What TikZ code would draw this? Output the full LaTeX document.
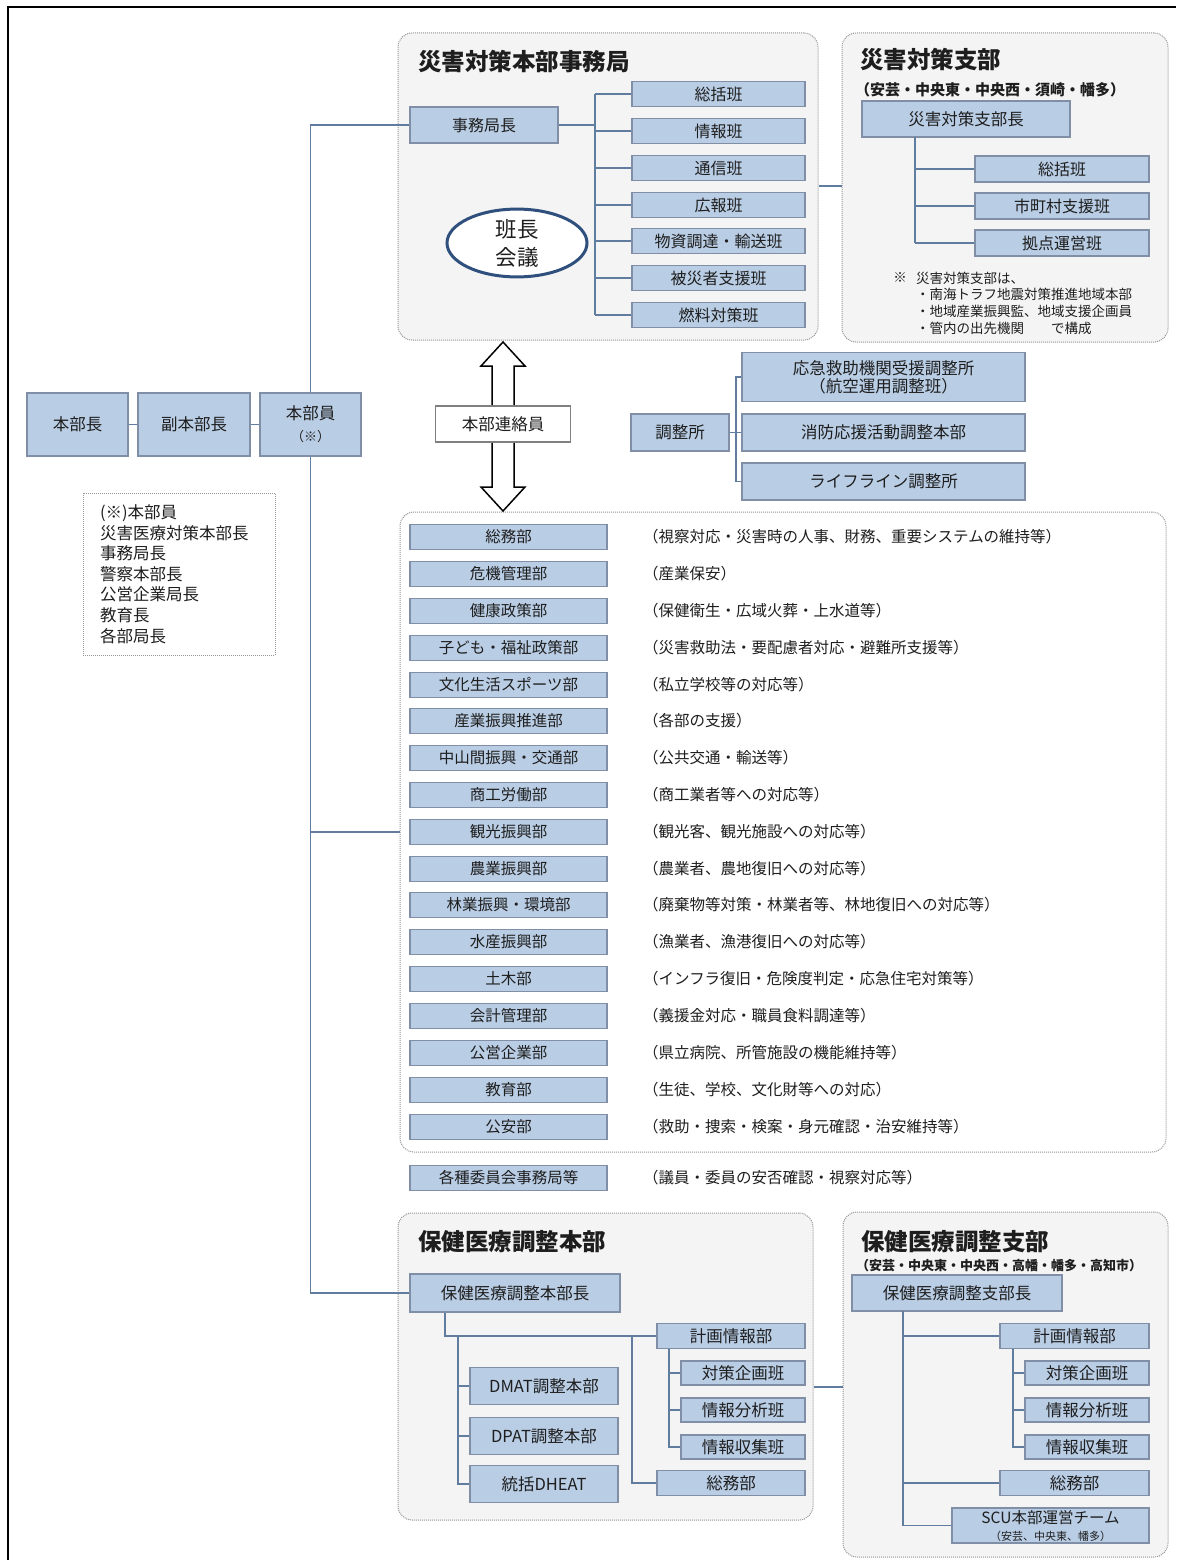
\documentclass[tikz,border=0pt]{standalone}
\usepackage{fontspec}
\setmainfont{Noto Sans CJK JP}
\usetikzlibrary{calc,shapes.geometric}

\definecolor{boxfill}{RGB}{185,205,229}
\definecolor{boxline}{RGB}{128,143,166}
\definecolor{connline}{RGB}{96,124,158}
\definecolor{grpfill}{RGB}{244,244,244}
\definecolor{grpline}{RGB}{150,150,150}
\definecolor{ovalline}{RGB}{47,79,125}
\definecolor{txt}{RGB}{30,30,30}

\begin{document}
\begin{tikzpicture}[x=1pt,y=-1pt]
\tikzset{box style/.style={shape=rectangle,draw=boxline,fill=boxfill,line width=1.2pt,inner sep=0pt,text=txt,align=center,font=\fontsize{16}{19}\selectfont},
grp style/.style={shape=rectangle,draw=grpline,fill=grpfill,densely dotted,line width=1pt,rounded corners=14pt,inner sep=0pt},
title style/.style={inner sep=0pt,text=txt,font=\fontsize{23.5}{28}\selectfont\bfseries},
sub style/.style={inner sep=0pt,text=txt,font=\fontsize{15}{18}\selectfont\bfseries},
desc style/.style={inner sep=0pt,text=txt,font=\fontsize{15.5}{18}\selectfont},
note style/.style={inner sep=0pt,text=txt,align=left,font=\fontsize{13.5}{16.7}\selectfont},
memo style/.style={shape=rectangle,draw=grpline,densely dotted,line width=1pt,fill=white,text=txt,minimum width=192pt,minimum height=162pt,text width=158pt,inner xsep=17pt,align=left,font=\fontsize{16.5}{20.6}\selectfont},
oval style/.style={shape=ellipse,draw=ovalline,line width=3pt,fill=white,text=txt,minimum width=140pt,minimum height=63pt,inner sep=0pt,align=center,font=\fontsize{21.5}{28}\selectfont},
arrow style/.style={draw=black,fill=white,line width=1.5pt,line join=miter},
conn style/.style={draw=connline,line width=1.6pt}}

\useasboundingbox (0,0) rectangle (1176,1560);
\draw[line width=2.5pt] (8,1560) -- (8,7) -- (1176,7);

\node[grp style, minimum width=420pt, minimum height=307pt] (g1) at (608,186.5) {};
\node[grp style, minimum width=326pt, minimum height=309pt] (g2) at (1005,187.5) {};
\node[grp style, fill=white, minimum width=766pt, minimum height=640pt] (g3) at (783,832) {};
\node[grp style, minimum width=415pt, minimum height=307pt] (g4) at (605.5,1366.5) {};
\node[grp style, minimum width=325pt, minimum height=345pt] (g5) at (1005.5,1384.5) {};

\node[title style, anchor=west] (t1) at (418,62) {災害対策本部事務局};
\node[title style, anchor=west] (t2) at (860,60) {災害対策支部};
\node[sub style, anchor=west] (t2s) at (855,90) {（安芸・中央東・中央西・須崎・幡多）};
\node[title style, anchor=west] (t4) at (418,1242) {保健医療調整本部};
\node[title style, anchor=west] (t5) at (861,1242) {保健医療調整支部};
\node[sub style, anchor=west, font=\fontsize{13}{16}\selectfont\bfseries] (t5s) at (856,1266) {（安芸・中央東・中央西・高幡・幡多・高知市）};

\node[box style, minimum width=148pt, minimum height=36pt] (k0) at (484,125) {事務局長};
\node[box style, minimum width=173pt, minimum height=25pt] (k1) at (718.5,94) {総括班};
\node[box style, minimum width=173pt, minimum height=25pt] (k2) at (718.5,131) {情報班};
\node[box style, minimum width=173pt, minimum height=25pt] (k3) at (718.5,168) {通信班};
\node[box style, minimum width=173pt, minimum height=25pt] (k4) at (718.5,205) {広報班};
\node[box style, minimum width=173pt, minimum height=25pt] (k5) at (718.5,241) {物資調達・輸送班};
\node[box style, minimum width=173pt, minimum height=25pt] (k6) at (718.5,278) {被災者支援班};
\node[box style, minimum width=173pt, minimum height=25pt] (k7) at (718.5,315) {燃料対策班};
\node[oval style] (kaigi) at (517,243) {班長\\会議};

\coordinate (kx) at (595,125);
\draw[conn style] (k0) -- (kx)
            (kx |- k1.west) -- (kx |- k7.west)
            (kx |- k1.west) -- (k1.west)
            (kx |- k2.west) -- (k2.west)
            (kx |- k3.west) -- (k3.west)
            (kx |- k4.west) -- (k4.west)
            (kx |- k5.west) -- (k5.west)
            (kx |- k6.west) -- (k6.west)
            (kx |- k7.west) -- (k7.west);

\node[box style, minimum width=208pt, minimum height=36pt, font=\fontsize{16.5}{19}\selectfont] (b0) at (966,119) {災害対策支部長};
\node[box style, minimum width=174pt, minimum height=26pt] (b1) at (1062,169) {総括班};
\node[box style, minimum width=174pt, minimum height=26pt] (b2) at (1062,206) {市町村支援班};
\node[box style, minimum width=174pt, minimum height=26pt] (b3) at (1062,243) {拠点運営班};
\node[note style] (n0) at (900,278) {※};
\node[note style, anchor=west] (n1) at (916,303) {災害対策支部は、\\・南海トラフ地震対策推進地域本部\\・地域産業振興監、地域支援企画員\\・管内の出先機関　　で構成};

\coordinate (bx) at (915,137);
\draw[conn style] (bx) -- (bx |- b3.west)
            (bx |- b1.west) -- (b1.west)
            (bx |- b2.west) -- (b2.west)
            (bx |- b3.west) -- (b3.west);

\coordinate (l1) at (830,186);
\draw[conn style] (g1.east |- l1) -- (g2.west |- l1);

\node[box style, minimum width=101pt, minimum height=63pt, font=\fontsize{16.5}{19}\selectfont] (h1) at (77.5,424.5) {本部長};
\node[box style, minimum width=112pt, minimum height=63pt, font=\fontsize{16.5}{19}\selectfont] (h2) at (194,424.5) {副本部長};
\node[box style, minimum width=101pt, minimum height=63pt, font=\fontsize{16.5}{22}\selectfont] (h3) at (310.5,424.5) {本部員\\{\fontsize{13}{16}\selectfont （※）}};
\node[memo style] (memo) at (179,574) {(※)本部員\\災害医療対策本部長\\事務局長\\警察本部長\\公営企業局長\\教育長\\各部局長};

\coordinate (atop) at (503,342);
\coordinate (abot) at (503,511);
\draw[arrow style] (atop) -- ($(atop)+(22,24)$) -- ($(atop)+(11,24)$) -- ($(abot)+(11,-24)$) -- ($(abot)+(22,-24)$) -- (abot)
            -- ($(abot)+(-22,-24)$) -- ($(abot)+(-11,-24)$) -- ($(atop)+(-11,24)$) -- ($(atop)+(-22,24)$) -- cycle;
\node[box style, fill=white, draw=gray, minimum width=135pt, minimum height=36pt, font=\fontsize{16.5}{19}\selectfont] (renraku) at (503,424) {本部連絡員};

\node[box style, minimum width=98pt, minimum height=37pt, font=\fontsize{16.5}{19}\selectfont] (c0) at (680,432.5) {調整所};
\node[box style, minimum width=283pt, minimum height=49pt, font=\fontsize{16.5}{18}\selectfont] (c1) at (883.5,377) {応急救助機関受援調整所\\（航空運用調整班）};
\node[box style, minimum width=283pt, minimum height=37pt, font=\fontsize{16.5}{19}\selectfont] (c2) at (883.5,432.5) {消防応援活動調整本部};
\node[box style, minimum width=283pt, minimum height=37pt, font=\fontsize{16.5}{19}\selectfont] (c3) at (883.5,481.5) {ライフライン調整所};

\coordinate (cx) at (736,432.5);
\draw[conn style] (c0) -- (c2)
            (c1.west) -| (cx) |- (c3.west);

\draw[conn style] (h1) -- (h2) (h2) -- (h3);
\draw[conn style] (h3.north) |- (k0.west);
\draw[conn style] (h3.south) |- (g3.west);

\node[box style, minimum width=197pt, minimum height=25pt, font=\fontsize{15.5}{18}\selectfont] (d1) at (508.5,537) {総務部};
\node[box style, minimum width=197pt, minimum height=25pt, font=\fontsize{15.5}{18}\selectfont] (d2) at (508.5,574) {危機管理部};
\node[box style, minimum width=197pt, minimum height=25pt, font=\fontsize{15.5}{18}\selectfont] (d3) at (508.5,611) {健康政策部};
\node[box style, minimum width=197pt, minimum height=25pt, font=\fontsize{15.5}{18}\selectfont] (d4) at (508.5,648) {子ども・福祉政策部};
\node[box style, minimum width=197pt, minimum height=25pt, font=\fontsize{15.5}{18}\selectfont] (d5) at (508.5,685) {文化生活スポーツ部};
\node[box style, minimum width=197pt, minimum height=25pt, font=\fontsize{15.5}{18}\selectfont] (d6) at (508.5,721) {産業振興推進部};
\node[box style, minimum width=197pt, minimum height=25pt, font=\fontsize{15.5}{18}\selectfont] (d7) at (508.5,758) {中山間振興・交通部};
\node[box style, minimum width=197pt, minimum height=25pt, font=\fontsize{15.5}{18}\selectfont] (d8) at (508.5,795) {商工労働部};
\node[box style, minimum width=197pt, minimum height=25pt, font=\fontsize{15.5}{18}\selectfont] (d9) at (508.5,832) {観光振興部};
\node[box style, minimum width=197pt, minimum height=25pt, font=\fontsize{15.5}{18}\selectfont] (d10) at (508.5,869) {農業振興部};
\node[box style, minimum width=197pt, minimum height=25pt, font=\fontsize{15.5}{18}\selectfont] (d11) at (508.5,905) {林業振興・環境部};
\node[box style, minimum width=197pt, minimum height=25pt, font=\fontsize{15.5}{18}\selectfont] (d12) at (508.5,942) {水産振興部};
\node[box style, minimum width=197pt, minimum height=25pt, font=\fontsize{15.5}{18}\selectfont] (d13) at (508.5,979) {土木部};
\node[box style, minimum width=197pt, minimum height=25pt, font=\fontsize{15.5}{18}\selectfont] (d14) at (508.5,1016) {会計管理部};
\node[box style, minimum width=197pt, minimum height=25pt, font=\fontsize{15.5}{18}\selectfont] (d15) at (508.5,1053) {公営企業部};
\node[box style, minimum width=197pt, minimum height=25pt, font=\fontsize{15.5}{18}\selectfont] (d16) at (508.5,1090) {教育部};
\node[box style, minimum width=197pt, minimum height=25pt, font=\fontsize{15.5}{18}\selectfont] (d17) at (508.5,1127) {公安部};
\node[box style, minimum width=197pt, minimum height=25pt, font=\fontsize{15.5}{18}\selectfont] (d18) at (508.5,1178) {各種委員会事務局等};

\node[desc style, anchor=west] (e1) at (643,537) {（視察対応・災害時の人事、財務、重要システムの維持等）};
\node[desc style, anchor=west] (e2) at (643,574) {（産業保安）};
\node[desc style, anchor=west] (e3) at (643,611) {（保健衛生・広域火葬・上水道等）};
\node[desc style, anchor=west] (e4) at (643,648) {（災害救助法・要配慮者対応・避難所支援等）};
\node[desc style, anchor=west] (e5) at (643,685) {（私立学校等の対応等）};
\node[desc style, anchor=west] (e6) at (643,721) {（各部の支援）};
\node[desc style, anchor=west] (e7) at (643,758) {（公共交通・輸送等）};
\node[desc style, anchor=west] (e8) at (643,795) {（商工業者等への対応等）};
\node[desc style, anchor=west] (e9) at (643,832) {（観光客、観光施設への対応等）};
\node[desc style, anchor=west] (e10) at (643,869) {（農業者、農地復旧への対応等）};
\node[desc style, anchor=west] (e11) at (643,905) {（廃棄物等対策・林業者等、林地復旧への対応等）};
\node[desc style, anchor=west] (e12) at (643,942) {（漁業者、漁港復旧への対応等）};
\node[desc style, anchor=west] (e13) at (643,979) {（インフラ復旧・危険度判定・応急住宅対策等）};
\node[desc style, anchor=west] (e14) at (643,1016) {（義援金対応・職員食料調達等）};
\node[desc style, anchor=west] (e15) at (643,1053) {（県立病院、所管施設の機能維持等）};
\node[desc style, anchor=west] (e16) at (643,1090) {（生徒、学校、文化財等への対応）};
\node[desc style, anchor=west] (e17) at (643,1127) {（救助・捜索・検案・身元確認・治安維持等）};
\node[desc style, anchor=west] (e18) at (643,1178) {（議員・委員の安否確認・視察対応等）};

\node[box style, minimum width=210pt, minimum height=38pt, font=\fontsize{16.5}{19}\selectfont] (m0) at (515,1293) {保健医療調整本部長};
\node[box style, minimum width=148pt, minimum height=25pt, font=\fontsize{16.5}{19}\selectfont] (m1) at (731,1336) {計画情報部};
\node[box style, minimum width=124pt, minimum height=24pt, font=\fontsize{16.5}{19}\selectfont] (m2) at (743,1373) {対策企画班};
\node[box style, minimum width=124pt, minimum height=24pt, font=\fontsize{16.5}{19}\selectfont] (m3) at (743,1410) {情報分析班};
\node[box style, minimum width=124pt, minimum height=24pt, font=\fontsize{16.5}{19}\selectfont] (m4) at (743,1447) {情報収集班};
\node[box style, minimum width=148pt, minimum height=25pt, font=\fontsize{16.5}{19}\selectfont] (m5) at (731,1483) {総務部};
\node[box style, minimum width=148pt, minimum height=37pt, font=\fontsize{16.5}{19}\selectfont] (m6) at (544,1386) {DMAT調整本部};
\node[box style, minimum width=148pt, minimum height=37pt, font=\fontsize{16.5}{19}\selectfont] (m7) at (544,1436) {DPAT調整本部};
\node[box style, minimum width=148pt, minimum height=37pt, font=\fontsize{16.5}{19}\selectfont] (m8) at (544,1484) {統括DHEAT};

\draw[conn style] (h3.south) |- (m0.west);

\coordinate (mx) at (445,1336);
\coordinate (my) at (458,1336);
\coordinate (mz) at (632,1336);
\coordinate (mw) at (669,1348.5);
\draw[conn style] (m0.south -| mx) -- (mx) -- (m1.west)
            (my) |- (m8.west)
            (my |- m6.west) -- (m6.west)
            (my |- m7.west) -- (m7.west)
            (mz) |- (m5.west)
            (mw) |- (m4.west)
            (mw |- m2.west) -- (m2.west)
            (mw |- m3.west) -- (m3.west);

\node[box style, minimum width=210pt, minimum height=36pt, font=\fontsize{16.5}{19}\selectfont] (p0) at (957,1293) {保健医療調整支部長};
\node[box style, minimum width=149pt, minimum height=25pt, font=\fontsize{16.5}{19}\selectfont] (p1) at (1074.5,1336) {計画情報部};
\node[box style, minimum width=124pt, minimum height=24pt, font=\fontsize{16.5}{19}\selectfont] (p2) at (1087,1373) {対策企画班};
\node[box style, minimum width=124pt, minimum height=24pt, font=\fontsize{16.5}{19}\selectfont] (p3) at (1087,1410) {情報分析班};
\node[box style, minimum width=124pt, minimum height=24pt, font=\fontsize{16.5}{19}\selectfont] (p4) at (1087,1447) {情報収集班};
\node[box style, minimum width=149pt, minimum height=25pt, font=\fontsize{16.5}{19}\selectfont] (p5) at (1074.5,1483) {総務部};
\node[box style, minimum width=197pt, minimum height=35pt, font=\fontsize{15.5}{17}\selectfont] (p6) at (1050.5,1525.5) {SCU本部運営チーム\\{\fontsize{11}{13}\selectfont （安芸、中央東、幡多）}};

\coordinate (px) at (903,1311);
\coordinate (pw) at (1013,1348.5);
\draw[conn style] (px) |- (p6.west)
            (px |- p1.west) -- (p1.west)
            (px |- p5.west) -- (p5.west)
            (pw) |- (p4.west)
            (pw |- p2.west) -- (p2.west)
            (pw |- p3.west) -- (p3.west);

\coordinate (l2) at (828,1387);
\draw[conn style] (g4.east |- l2) -- (g5.west |- l2);
\end{tikzpicture}
\end{document}
